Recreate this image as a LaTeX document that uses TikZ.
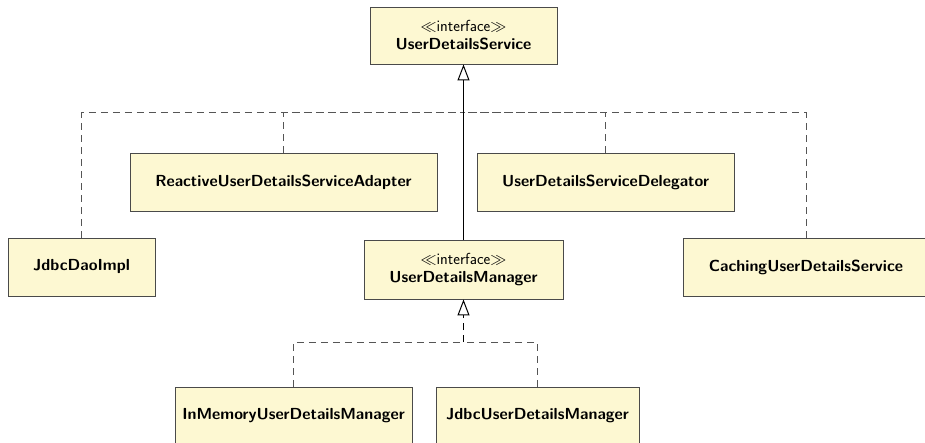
\documentclass[tikz,border=0pt]{standalone}
\usepackage{fix-cm}
\usepackage{amsmath,amssymb}
\usepackage{fontspec}
\usepackage{tikz}
\usetikzlibrary{arrows.meta,positioning,calc}

\definecolor{clsfill}{HTML}{FDF8D2}
\definecolor{clsline}{HTML}{4A4A4A}
\definecolor{implline}{HTML}{555555}

\begin{document}
\begin{tikzpicture}[
    x=1pt, y=1pt,
    cls/.style={draw=clsline, line width=0.9pt, fill=clsfill, align=center, inner sep=0pt,
        minimum height=58pt, font=\sffamily\bfseries\fontsize{16}{18}\selectfont},
    iface/.style={cls, font=\sffamily\fontsize{16}{18}\selectfont},
    gen/.style={-{Triangle[open, width=12pt, length=16pt, line width=1pt]}, line width=1pt, black},
    impl/.style={dashed, dash pattern=on 7pt off 5pt, line width=1pt, draw=implline}
]
\useasboundingbox (0,0) rectangle (925,-443);

% interfaces
\node[iface, minimum width=187pt, minimum height=57pt] (uds) at (463.5,-35.5)
    {$\ll$interface$\gg$\\\textbf{UserDetailsService}};
\node[iface, minimum width=199pt, minimum height=59pt] (udm) at (463.5,-269.5)
    {$\ll$interface$\gg$\\\textbf{UserDetailsManager}};

% implementations of UserDetailsService
\node[cls, minimum width=147pt] (jdbcdao) at (81.5,-267) {JdbcDaoImpl};
\node[cls, minimum width=307pt] (reactive) at (283.5,-182) {ReactiveUserDetailsServiceAdapter};
\node[cls, minimum width=257pt] (delegator) at (605.5,-182) {UserDetailsServiceDelegator};
\node[cls, minimum width=246pt] (caching) at (806,-267) {CachingUserDetailsService};

% implementations of UserDetailsManager
\node[cls, minimum width=237pt] (inmem) at (293.5,-416) {InMemoryUserDetailsManager};
\node[cls, minimum width=203pt] (jdbcmgr) at (537.5,-416) {JdbcUserDetailsManager};

\coordinate (topbus) at (463.5,-113);
\coordinate (lowbus) at (463.5,-342);

\draw[impl] (jdbcdao.north) |- (topbus);
\draw[impl] (reactive.north) |- (topbus);
\draw[impl] (delegator.north) |- (topbus);
\draw[impl] (caching.north) |- (topbus);
\draw[gen] (udm.north) -- (uds.south);

\draw[impl] (inmem.north) |- (lowbus);
\draw[impl] (jdbcmgr.north) |- (lowbus);
\draw[impl, gen, dashed, dash pattern=on 7pt off 5pt] (lowbus) -- (udm.south);
\end{tikzpicture}
\end{document}
